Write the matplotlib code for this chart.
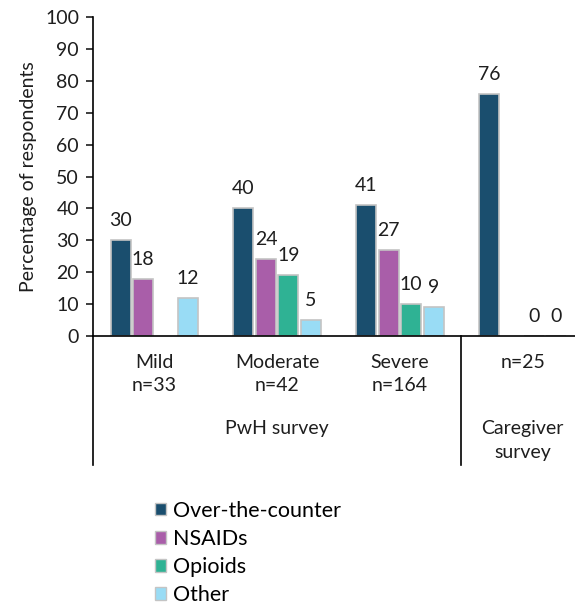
import numpy as np
import matplotlib.pyplot as plt
from matplotlib.transforms import blended_transform_factory
from matplotlib.patches import Patch

plt.rcParams['font.family'] = ['Lato', 'DejaVu Sans']

groups = ["Mild", "Moderate", "Severe", ""]
group_n = ["n=33", "n=42", "n=164", "n=25"]
series = ["Over-the-counter", "NSAIDs", "Opioids", "Other"]
otc = [30, 40, 41, 76]
nsaids = [18, 24, 27, np.nan]
opioids = [np.nan, 19, 10, 0]
other = [12, 5, 9, 0]
colors = ["#1a4e6e", "#a95ea9", "#2fb294", "#99dcf5"]

values = [otc, nsaids, opioids, other]

FS = 14
TXT = "#1e1e1e"

fig = plt.figure(figsize=(5.75, 6.08), dpi=100)
H = 319
ax = fig.add_axes([93 / 575, 1 - 336 / 608, 491 / 575, H / 608])

x = np.arange(len(groups))
step = 0.183
width = 0.163
for i, (name, vals, c) in enumerate(zip(series, values, colors)):
    pos = x + (i - 1.5) * step
    for xp, v in zip(pos, vals):
        if np.isnan(v):
            continue
        ax.bar(xp, v, width, color=c, edgecolor="#c4c4c4", linewidth=1.2)
        ax.annotate(f"{v:.0f}", (xp, v), xytext=(0, 14), textcoords="offset points",
                    ha="center", va="center", fontsize=FS, color=TXT)

ax.set_xlim(-0.5, 3.5)
ax.set_ylim(0, 100)
ax.set_yticks(range(0, 101, 10))
ax.tick_params(axis="y", direction="out", length=5, width=1.2, labelsize=FS,
               colors=TXT, pad=5)
ax.set_xticks([])
ax.set_ylabel("Percentage of respondents", fontsize=FS, color=TXT, labelpad=6)
for s in ["top", "right"]:
    ax.spines[s].set_visible(False)
ax.spines["left"].set_linewidth(1.2)
ax.spines["bottom"].set_linewidth(1.2)

# category table below the axis
tr = blended_transform_factory(ax.transData, ax.transAxes)
low = -129 / H
ax.plot([-0.5, -0.5], [0, low], transform=tr, color="black", lw=1.2, clip_on=False)
ax.plot([2.5, 2.5], [0, low], transform=tr, color="black", lw=1.2, clip_on=False)


def label(xp, ypix, s):
    ax.text(xp, -ypix / H, s, transform=tr, ha="center", va="center",
            fontsize=FS, color=TXT)


for xp, g, n in zip(x, groups, group_n):
    if g:
        label(xp, 26, g)
        label(xp, 49, n)
    else:
        label(xp, 26, n)
label(1.0, 92, "PwH survey")
label(3.0, 92, "Caregiver")
label(3.0, 116, "survey")

handles = [Patch(facecolor=c, edgecolor="#c4c4c4", label=s) for s, c in zip(series, colors)]
fig.legend(handles=handles, loc="upper left", bbox_to_anchor=(146 / 575, 1 - 492 / 608),
           frameon=False, fontsize=15.5, handlelength=0.55, handleheight=0.55,
           handletextpad=0.3, labelspacing=0.38, borderaxespad=0)

fig.savefig("out.png", dpi=100)
